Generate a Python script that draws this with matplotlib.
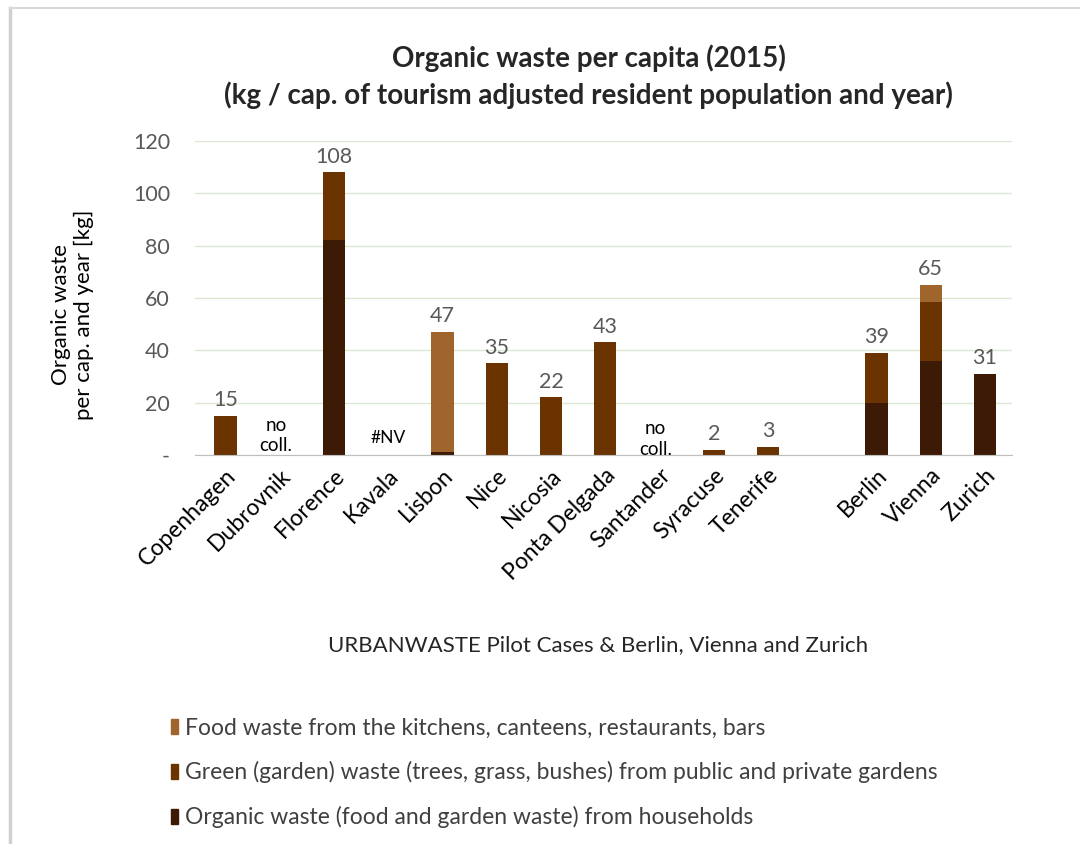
import numpy as np
import matplotlib
matplotlib.use("Agg")
import matplotlib.pyplot as plt
from matplotlib.patches import Patch
from matplotlib.lines import Line2D

plt.rcParams['font.family'] = ['Lato', 'DejaVu Sans']

cities = ["Copenhagen", "Dubrovnik", "Florence", "Kavala", "Lisbon", "Nice",
          "Nicosia", "Ponta Delgada", "Santander", "Syracuse", "Tenerife", "",
          "Berlin", "Vienna", "Zurich"]
household = [0, 0, 82, 0, 1.2, 0, 0, 0, 0, 0, 0, 0, 20, 36, 31]
green = [15, 0, 26, 0, 0, 35, 22, 43, 0, 2, 3, 0, 19, 22.5, 0]
food = [0, 0, 0, 0, 45.8, 0, 0, 0, 0, 0, 0, 0, 0, 6.5, 0]
notes = {"Dubrovnik": "no\ncoll.", "Kavala": "#NV", "Santander": "no\ncoll."}

c_food = "#a0642d"
c_green = "#6b3300"
c_house = "#3d1a05"

fig = plt.figure(figsize=(10.8, 8.44), dpi=100)
ax = fig.add_axes([0.1806, 0.461, 0.7565, 0.372])

x = np.arange(len(cities))
household = np.array(household)
green = np.array(green)
food = np.array(food)
w = 0.41
ax.bar(x, household, w, color=c_house)
ax.bar(x, green, w, bottom=household, color=c_green)
ax.bar(x, food, w, bottom=household + green, color=c_food)

totals = household + green + food
for i, t in enumerate(totals):
    if t > 0:
        ax.text(x[i], t + 2.2, "%d" % round(t), ha="center", va="bottom",
                fontsize=15.5, color="#595959")

# note placement tweaks (y in data units)
note_y = {"Dubrovnik": 7.5, "Kavala": 6.5, "Santander": 6.0}
for name, txt in notes.items():
    i = cities.index(name)
    if txt == "#NV":
        ax.text(x[i], note_y[name], txt, ha="center", va="center", fontsize=12.5,
                color="#000000")
    else:
        ax.text(x[i] - 0.07, note_y[name], txt, ha="center", va="center",
                fontsize=13.5, color="#000000", linespacing=1.25)

ax.set_ylim(0, 120)
ax.set_xlim(-0.56, len(cities) - 0.5)
ax.set_yticks(np.arange(0, 121, 20))
ax.set_yticklabels(["-"] + [str(v) for v in range(20, 121, 20)])
ax.yaxis.grid(True, color="#dde8d2", linewidth=1)
ax.set_axisbelow(True)
for s in ["top", "right", "left"]:
    ax.spines[s].set_visible(False)
ax.spines["bottom"].set_color("#bfbfbf")
ax.tick_params(axis="y", length=0, labelsize=15.5, labelcolor="#595959", pad=18)
ax.tick_params(axis="x", length=0, labelsize=16.5, pad=7)
ax.set_xticks(x)
ax.set_xticklabels(cities, rotation=45, ha="right", rotation_mode="anchor")

fig.text(0.067, 0.627, "Organic waste\nper cap. and year [kg]", rotation=90,
         ha="center", va="center", fontsize=16, color="#000000", linespacing=1.15)

fig.text(0.545, 0.931, "Organic waste per capita (2015)", ha="center", va="center",
         fontsize=20, fontweight="bold", color="#262626")
fig.text(0.545, 0.887, "(kg / cap. of tourism adjusted resident population and year)",
         ha="center", va="center", fontsize=20, fontweight="bold", color="#262626")

fig.text(0.554, 0.236, "URBANWASTE Pilot Cases & Berlin, Vienna and Zurich",
         ha="center", va="center", fontsize=16, color="#262626")

handles = [Patch(color=c_food), Patch(color=c_green), Patch(color=c_house)]
labels = ["Food waste from the kitchens, canteens, restaurants, bars",
          "Green (garden) waste (trees, grass, bushes) from public and private gardens",
          "Organic waste (food and garden waste) from households"]
fig.legend(handles, labels, loc="upper left", bbox_to_anchor=(0.158, 0.150),
           frameon=False, fontsize=16.5, handlelength=0.32, handleheight=0.6,
           handletextpad=0.3, labelspacing=1.0, labelcolor="#404040",
           borderpad=0, borderaxespad=0)

# outer frame (left and top edges visible)
fig.add_artist(Line2D([0.009, 0.009], [0, 0.99], transform=fig.transFigure,
                      color="#d0d0d0", linewidth=2.5))
fig.add_artist(Line2D([0.009, 1.0], [0.99, 0.99], transform=fig.transFigure,
                      color="#d9d9d9", linewidth=1.5))

fig.savefig("out.png", dpi=100)
